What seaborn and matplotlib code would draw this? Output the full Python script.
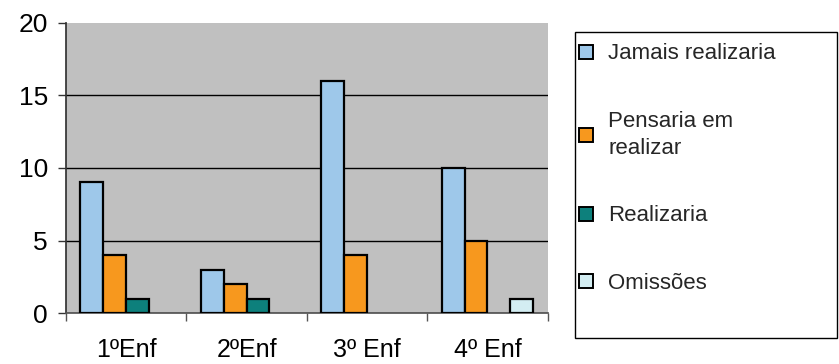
import pandas as pd
import matplotlib.pyplot as plt
import seaborn as sns
from matplotlib.patches import Rectangle

# Data
groups = ["1ºEnf", "2ºEnf", "3º Enf", "4º Enf"]
series = ["Jamais realizaria", "Pensaria em\nrealizar", "Realizaria", "Omissões"]
jamais = [9, 3, 16, 10]
pensaria = [4, 2, 4, 5]
realizaria = [1, 1, 0, 0]
omissoes = [0, 0, 0, 1]
colors = ["#9EC8EA", "#F7981E", "#0D807C", "#D3EDF2"]

rows = []
for name, vals in zip(series, [jamais, pensaria, realizaria, omissoes]):
    for g, v in zip(groups, vals):
        rows.append({"grupo": g, "serie": name, "valor": v})
df = pd.DataFrame(rows)
df = df[df["valor"] > 0]  # empty bars are not drawn

sns.set_theme(style="white")
plt.rcParams["font.family"] = ["Liberation Sans", "DejaVu Sans"]

fig = plt.figure(figsize=(8.39, 3.64), dpi=100)
ax = fig.add_axes([0.0787, 0.140, 0.574, 0.797])
ax.set_facecolor("#C0C0C0")

sns.barplot(data=df, x="grupo", y="valor", hue="serie", order=groups,
            hue_order=series, palette=colors, saturation=1, width=0.76, gap=0,
            edgecolor="black", linewidth=1.6, ax=ax, zorder=3)

ax.set_ylim(0, 20)
ax.set_xlim(-0.5, 3.5)
ax.set_yticks([0, 5, 10, 15, 20])
ax.yaxis.grid(True, color="black", linewidth=1.0, zorder=1)
ax.get_ygridlines()[-1].set_visible(False)
ax.set_axisbelow(True)
ax.set_xlabel("")
ax.set_ylabel("")

for s in ["top", "right"]:
    ax.spines[s].set_visible(False)
ax.spines["left"].set_color("#333333")
ax.spines["bottom"].set_color("#555555")

ax.set_xticks(range(len(groups)))
ax.set_xticklabels(groups)
ax.set_xticks([-0.5, 0.5, 1.5, 2.5, 3.5], minor=True)
ax.tick_params(axis="x", which="major", length=0, pad=18, labelsize=18, colors="black")
ax.tick_params(axis="x", which="minor", length=6, width=1, color="#555555", direction="out", bottom=True)
ax.tick_params(axis="y", length=6, width=1, color="#333333", direction="out", left=True,
               pad=7, labelsize=19, labelcolor="black")

# legend
ax.get_legend().remove()
handles, labels = ax.get_legend_handles_labels()
fig.patches.append(Rectangle((0.685, 0.071), 0.313, 0.841, transform=fig.transFigure,
                             facecolor="white", edgecolor="black", linewidth=1))
leg = fig.legend(handles[:4], labels[:4], loc="upper left", bbox_to_anchor=(0.680, 0.905),
                 frameon=False, fontsize=16, labelspacing=2.1, handlelength=0.6,
                 handleheight=0.6, handletextpad=0.7, borderaxespad=0)
for h in leg.legend_handles:
    h.set_edgecolor("black")
    h.set_linewidth(1.4)
for t in leg.get_texts():
    t.set_linespacing(1.35)

plt.savefig("out.png", dpi=100)
